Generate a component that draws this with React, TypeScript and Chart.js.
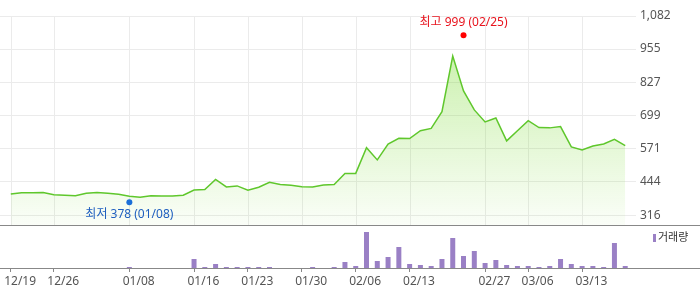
import { useEffect, useRef } from "react";
import { Chart, registerables } from "chart.js";

Chart.register(...registerables);

// ---- data ----
const prices = [
  398, 403, 403, 404, 395, 393, 391, 401, 404, 401,
  397, 389, 385, 391, 390, 390, 393, 413, 415, 454,
  425, 429, 412, 424, 443, 434, 431, 426, 425, 432,
  434, 477, 477, 576, 529, 590, 612, 611, 641, 650,
  714, 928, 794, 721, 675, 690, 602, 641, 680, 653,
  652, 657, 579, 567, 582, 590, 608, 584,
];
const volumes = [
  0, 0, 0, 0, 0, 0, 0, 0, 0, 0,
  0, 1000, 0, 0, 0, 0, 0, 9000, 1000, 4000,
  1000, 1000, 1000, 1000, 1000, 0, 0, 0, 1000, 0,
  1000, 6000, 2000, 36000, 7000, 11000, 21000, 4000, 3000, 2000,
  9000, 30000, 12000, 17000, 5000, 8000, 3000, 2000, 2000, 1000,
  2000, 9000, 4000, 2000, 2000, 1000, 25000, 2000,
];
const tickIndices = [0, 4, 11, 17, 22, 27, 32, 37, 44, 48, 53];
const tickLabels = ["12/19", "12/26", "01/08", "01/16", "01/23", "01/30", "02/06", "02/13", "02/27", "03/06", "03/13"];
const priceTicks = [316, 444, 571, 699, 827, 955, 1082];
const highPoint = { index: 42, value: 999, label: "최고 999 (02/25)" };
const lowPoint = { index: 11, value: 378, label: "최저 378 (01/08)" };
const volumeLabel = "거래량";

// ---- axis ranges ----
const PRICE_MAX = 1082;
const PRICE_MIN = 113.4;
const PRICE_FLOOR = 278.7; // boundary between price panel and volume panel
const VOL_MAX = 252000;

const FONT = '"Noto Sans", "Noto Sans CJK KR", sans-serif';

export default function App() {
  const ref = useRef<HTMLCanvasElement | null>(null);

  useEffect(() => {
    const canvas = ref.current;
    if (!canvas) return;

    const panelPlugin = {
      id: "panelPlugin",
      beforeDatasetsDraw(chart: any) {
        const { ctx, chartArea, scales } = chart;
        const xs = scales.x;
        const ys = scales.y;
        const splitY = ys.getPixelForValue(PRICE_FLOOR);
        ctx.save();
        ctx.strokeStyle = "#ebebeb";
        ctx.lineWidth = 1;
        tickIndices.forEach((i) => {
          const x = Math.round(xs.getPixelForValue(i)) + 0.5;
          ctx.beginPath();
          ctx.moveTo(x, chartArea.top);
          ctx.lineTo(x, splitY);
          ctx.stroke();
        });
        ctx.restore();
      },
      afterDatasetsDraw(chart: any) {
        const { ctx, scales } = chart;
        const xs = scales.x;
        const ys = scales.y;
        ctx.save();
        ctx.font = `12px ${FONT}`;
        ctx.textAlign = "center";
        ctx.textBaseline = "middle";
        // high
        const hx = xs.getPixelForValue(highPoint.index);
        const hy = ys.getPixelForValue(highPoint.value) - 2.3;
        ctx.fillStyle = "#ff0000";
        ctx.beginPath();
        ctx.arc(hx, hy, 3, 0, Math.PI * 2);
        ctx.fill();
        ctx.fillStyle = "#e8141e";
        ctx.fillText(highPoint.label, hx, hy - 13);
        // low
        const lx = xs.getPixelForValue(lowPoint.index);
        const ly = ys.getPixelForValue(lowPoint.value) + 3;
        ctx.fillStyle = "#1a6fd8";
        ctx.beginPath();
        ctx.arc(lx, ly, 3, 0, Math.PI * 2);
        ctx.fill();
        ctx.fillStyle = "#1f5fbf";
        ctx.fillText(lowPoint.label, lx, ly + 12.5);
        ctx.restore();
      },
      afterDraw(chart: any) {
        const { ctx, chartArea, scales, width } = chart;
        const ys = scales.y;
        const splitY = Math.round(ys.getPixelForValue(PRICE_FLOOR)) + 0.5;
        const baseY = Math.round(chartArea.bottom) + 0.5;
        ctx.save();
        ctx.strokeStyle = "#888888";
        ctx.lineWidth = 1;
        ctx.beginPath();
        ctx.moveTo(0, splitY);
        ctx.lineTo(width, splitY);
        ctx.moveTo(0, baseY);
        ctx.lineTo(width, baseY);
        ctx.stroke();
        // legend
        ctx.fillStyle = "#9a80c5";
        ctx.fillRect(653, splitY + 8.5, 3, 8);
        ctx.fillStyle = "#333";
        ctx.font = `11px ${FONT}`;
        ctx.textAlign = "left";
        ctx.textBaseline = "middle";
        ctx.fillText(volumeLabel, 658, splitY + 12.5);
        ctx.restore();
      },
    };

    const chart = new Chart(canvas, {
      data: {
        datasets: [
          {
            type: "bar",
            data: volumes.map((v, i) => ({ x: i, y: v > 0 ? v : null })),
            yAxisID: "yv",
            backgroundColor: "#9a80c5",
            barThickness: 5,
            inflateAmount: 0,
            order: 1,
          } as any,
          {
            type: "line",
            data: prices.map((p, i) => ({ x: i, y: p })),
            yAxisID: "y",
            borderColor: "#5fc72c",
            borderWidth: 1.5,
            pointRadius: 0,
            tension: 0,
            fill: { value: PRICE_FLOOR },
            backgroundColor: (c: any) => {
              const ch = c.chart;
              const area = ch.chartArea;
              if (!area) return "rgba(110,215,30,0.2)";
              const bottom = ch.scales.y.getPixelForValue(PRICE_FLOOR);
              const g = ch.ctx.createLinearGradient(0, area.top, 0, bottom);
              g.addColorStop(0, "rgba(110,215,30,0.42)");
              g.addColorStop(1, "rgba(110,215,30,0.03)");
              return g;
            },
            order: 2,
          } as any,
        ],
      },
      options: {
        responsive: false,
        animation: false,
        layout: { padding: { top: 16, left: 0, right: 0, bottom: 0 } },
        plugins: { legend: { display: false }, tooltip: { enabled: false } },
        scales: {
          x: {
            type: "linear",
            offset: false,
            min: -1,
            max: 58,
            afterBuildTicks: (s: any) => {
              s.ticks = tickIndices.map((v) => ({ value: v }));
            },
            afterFit: (s: any) => {
              s.height = 21;
            },
            ticks: {
              autoSkip: false,
              maxRotation: 0,
              align: "start",
              labelOffset: -6.6,
              padding: 2,
              color: "#555",
              font: { family: FONT, size: 12 },
              callback: (v: any) => {
                const k = tickIndices.indexOf(Number(v));
                return k >= 0 ? tickLabels[k] : "";
              },
            },
            grid: { offset: false, drawOnChartArea: false, drawTicks: true, tickLength: 4, color: "#888" },
            border: { display: false },
          },
          y: {
            position: "right",
            min: PRICE_MIN,
            max: PRICE_MAX,
            afterBuildTicks: (s: any) => {
              s.ticks = priceTicks.map((v) => ({ value: v }));
            },
            afterFit: (s: any) => {
              s.width = 64;
            },
            ticks: {
              padding: 4,
              color: "#555",
              font: { family: FONT, size: 12 },
              callback: (v: any) => Number(v).toLocaleString("en-US"),
            },
            grid: { color: "#ebebeb", drawTicks: false },
            border: { display: false },
          },
          yv: {
            display: false,
            min: 0,
            max: VOL_MAX,
          },
        },
      } as any,
      plugins: [panelPlugin],
    });

    return () => chart.destroy();
  }, []);

  return (
    <div style={{ position: "absolute", left: 0, top: 0, width: 700, height: 289, background: "#fff" }}>
      <canvas ref={ref} width={700} height={289} style={{ display: "block", width: 700, height: 289 }} />
    </div>
  );
}
